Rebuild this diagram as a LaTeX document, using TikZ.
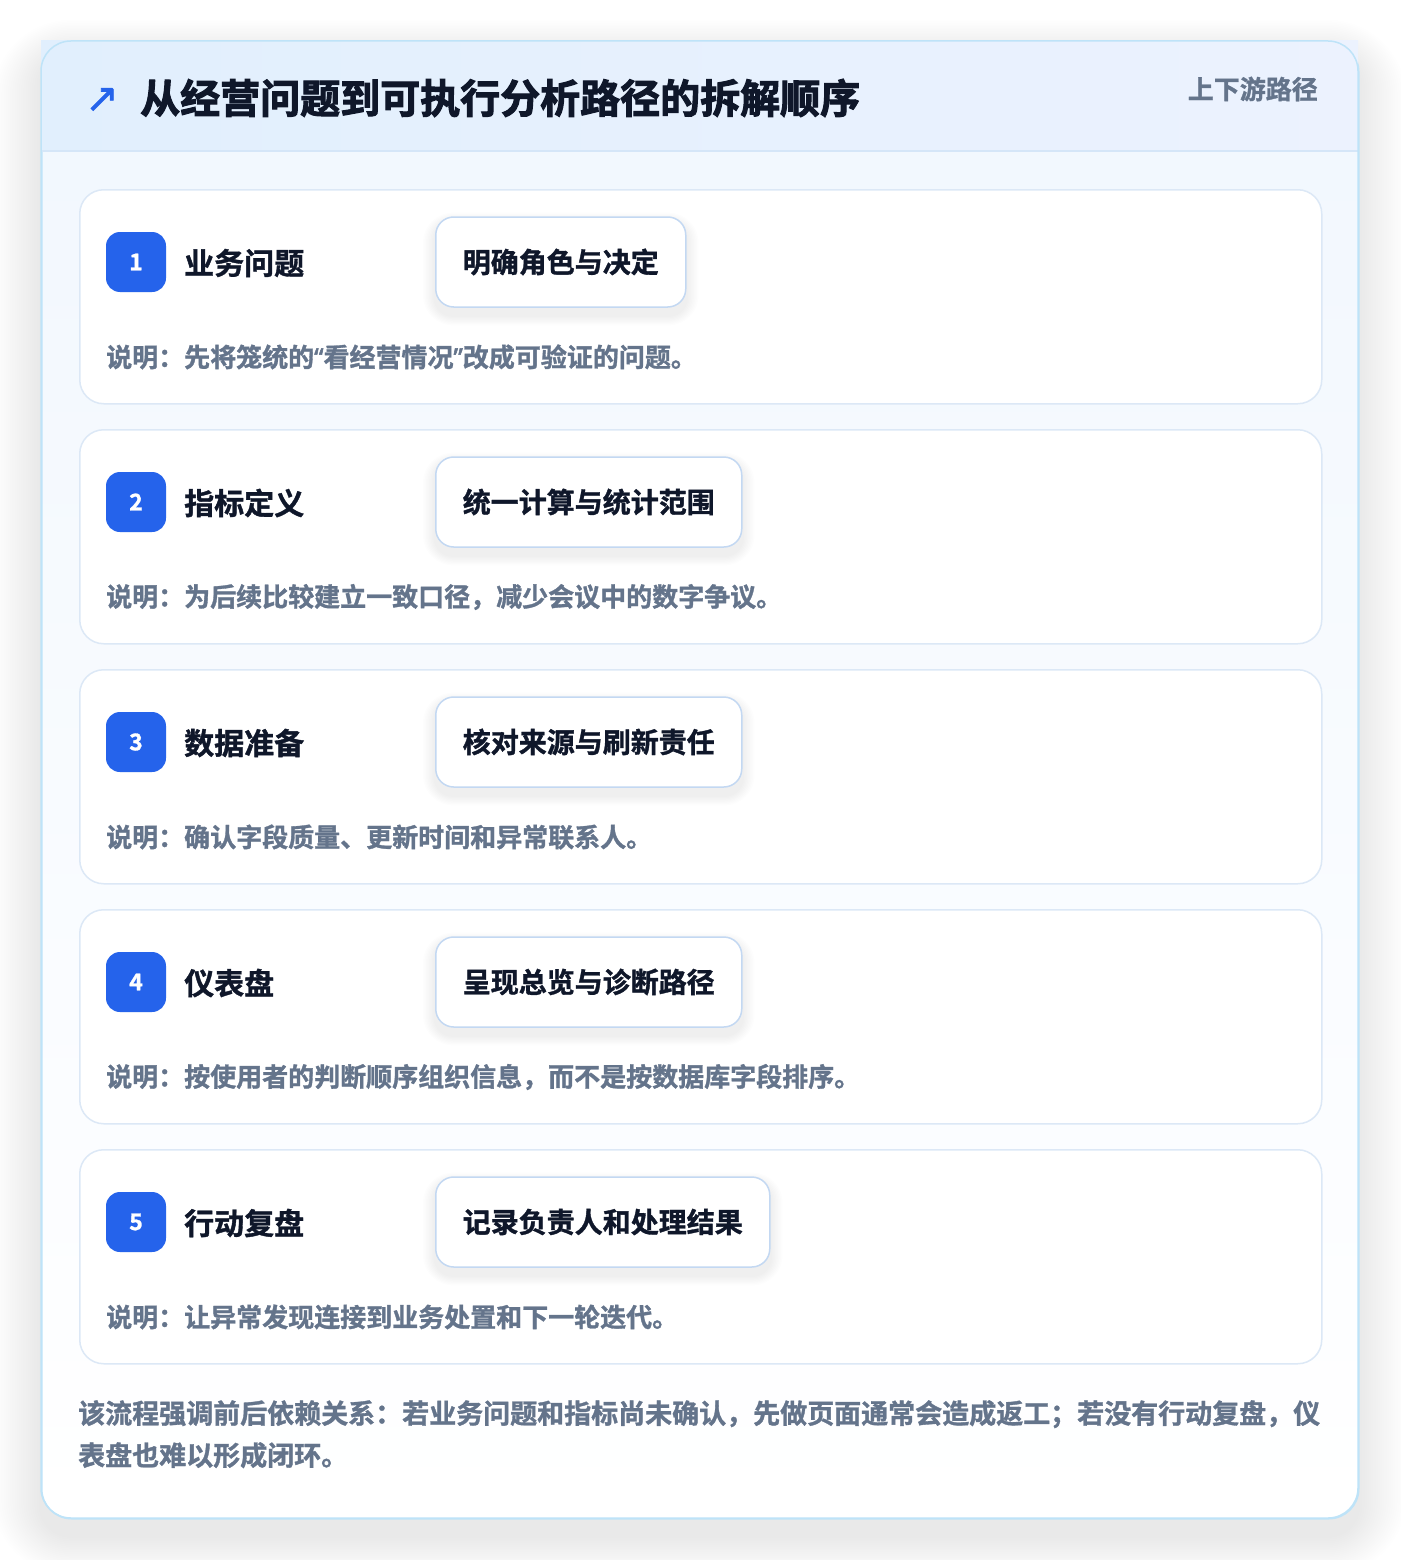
\documentclass[tikz,border=0pt]{standalone}
\usepackage{fontspec}
\setmainfont{Noto Sans CJK SC}[BoldFont={Noto Sans CJK SC Bold}]
\newfontfamily\heavyA{Noto Sans CJK SC Bold}[FakeBold=2.5]
\newfontfamily\heavyB{Noto Sans CJK SC Bold}[FakeBold=1.2]
\newfontfamily\latinq{Noto Sans}[FakeBold=2]
\newfontfamily\symfont{DejaVu Sans}[FakeBold=1.5]
\newcommand{\myLQ}{{\latinq “}}
\newcommand{\myRQ}{{\latinq ”}}
\pgfdeclarelayer{back}
\pgfdeclarelayer{cards}
\pgfdeclarelayer{chipshadow}
\pgfsetlayers{back,cards,chipshadow,main}
\definecolor{ink}{HTML}{0F172A}
\definecolor{muted}{HTML}{64748B}
\definecolor{brand}{HTML}{2563EB}
\definecolor{outerline}{HTML}{BEE3F8}
\definecolor{cardline}{HTML}{DCE8F6}
\definecolor{chipline}{HTML}{C3D8F2}
\definecolor{headL}{HTML}{E1EFFD}
\definecolor{headR}{HTML}{ECF2FE}
\definecolor{bodytop}{HTML}{F1F7FE}
\definecolor{sepline}{HTML}{D5E6F8}
\newcommand{\fs}[1]{\fontsize{#1}{#1}\selectfont}
\tikzset{
  outercard/.style={draw=outerline, line width=1.5pt, rounded corners=30pt,
    minimum width=1317pt, minimum height=1477pt, inner sep=0pt, anchor=north west},
  stepcard/.style={draw=cardline, line width=1.5pt, fill=white, rounded corners=24pt,
    minimum width=1242pt, minimum height=214pt, inner sep=0pt, anchor=north west},
  badge/.style={fill=brand, rounded corners=14pt, minimum width=60pt, minimum height=60pt,
    inner sep=0pt, text=white, font=\heavyB\fs{23}},
  steplabel/.style={anchor=west, inner sep=0pt, text=ink, font=\heavyB\fs{30}},
  chip/.style={anchor=west, draw=chipline, line width=1.5pt, fill=white, rounded corners=18pt,
    minimum height=90pt, inner xsep=27pt, inner ysep=0pt, text=ink, font=\heavyB\fs{28}},
  desc/.style={anchor=west, inner sep=0pt, text=muted, font=\heavyB\fs{26}},
}
\begin{document}
\begin{tikzpicture}[x=1pt,y=-1pt]
\useasboundingbox (0,0) rectangle (1400,1560);
\begin{pgfonlayer}{back}
\fill[white] (0,0) rectangle (1400,1560);
% soft shadow of the outer card
\foreach \k in {1,...,22}{
  \pgfmathsetmacro{\r}{30+2.2*\k}
  \fill[black, opacity=0.0042, rounded corners=\r pt]
    (41-2.2*\k, 41+14-1.6*\k) rectangle (1358+2.2*\k, 1518+18+1.8*\k);
}
% outer card
\node[outercard, top color=bodytop, bottom color=white] (card) at (41,41) {};
\fill[left color=headL, right color=headR] (41,41) rectangle (1358,151);
\draw[sepline, line width=1.5pt] (41,151) -- (1358,151);
\draw[outerline, line width=1.5pt, rounded corners=30pt] (41,41) rectangle (1358,1518);
\end{pgfonlayer}
% header
\node[anchor=center, inner sep=0pt, text=brand, font=\symfont\fs{40}] (icon) at (102,100) {↗};
\node[anchor=west, inner sep=0pt, text=ink, font=\heavyA\fs{40}] (title) at (140,98) {从经营问题到可执行分析路径的拆解顺序};
\node[anchor=east, inner sep=0pt, text=muted, font=\heavyB\fs{26}] (tag) at (1318,89) {上下游路径};
% steps
\foreach \i/\lab/\chiptext/\d in {
  1/业务问题/明确角色与决定/说明：先将笼统的\myLQ 看经营情况\myRQ 改成可验证的问题。,
  2/指标定义/统一计算与统计范围/说明：为后续比较建立一致口径，减少会议中的数字争议。,
  3/数据准备/核对来源与刷新责任/说明：确认字段质量、更新时间和异常联系人。,
  4/仪表盘/呈现总览与诊断路径/说明：按使用者的判断顺序组织信息，而不是按数据库字段排序。,
  5/行动复盘/记录负责人和处理结果/说明：让异常发现连接到业务处置和下一轮迭代。}{
  \pgfmathsetmacro{\top}{189+240*(\i-1)}
  \begin{pgfonlayer}{cards}
    \node[stepcard] (s\i) at (79,\top) {};
  \end{pgfonlayer}
  \node[badge] (b\i) at (136,\top+73) {\i};
  \node[steplabel] (l\i) at (184,\top+74) {\lab};
  \node[chip] (c\i) at (435,\top+73) {\chiptext};
  \begin{pgfonlayer}{chipshadow}
    \foreach \k in {1,...,8}{
      \pgfmathsetmacro{\rr}{18+1.5*\k}
      \fill[black, opacity=0.008, rounded corners=\rr pt]
        ([xshift=-1.5*\k pt, yshift=1.2*\k pt-6pt]c\i.north west) rectangle
        ([xshift=1.5*\k pt, yshift=-1.2*\k pt-8pt]c\i.south east);
    }
  \end{pgfonlayer}
  \node[desc] (d\i) at (106,\top+168) {\d};
}
% footer
\node[anchor=north west, inner sep=0pt, text=muted, align=left,
  font=\heavyB\fontsize{27}{42}\selectfont] (foot) at (78,1400)
  {该流程强调前后依赖关系：若业务问题和指标尚未确认，先做页面通常会造成返工；若没有行动复盘，仪\\表盘也难以形成闭环。};
\end{tikzpicture}
\end{document}
